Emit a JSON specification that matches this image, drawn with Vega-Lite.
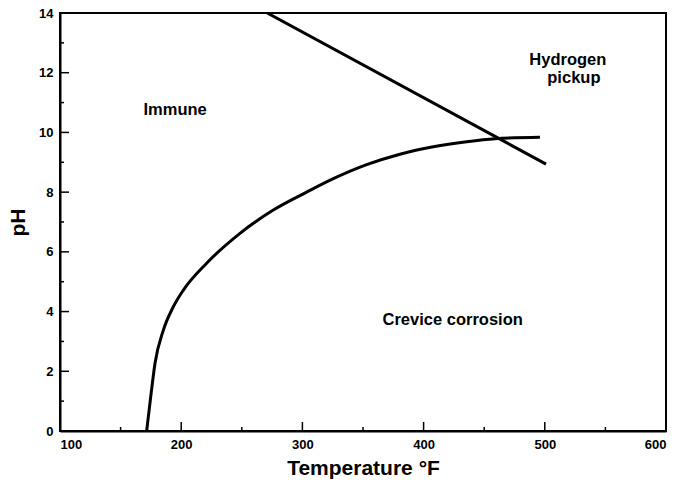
{
  "$schema": "https://vega.github.io/schema/vega-lite/v6.json",
  "autosize": "none",
  "width": 606,
  "height": 418,
  "padding": {"left": 60, "top": 13, "right": 12, "bottom": 50},
  "background": "white",
  "config": {
    "view": {"stroke": "black", "strokeWidth": 2},
    "font": "Liberation Sans"
  },
  "datasets": {
    "boundary": [
      {"T": 271, "pH": 14},
      {"T": 501, "pH": 8.94}
    ],
    "curve": [
      {"T": 171.5, "pH": 0},
      {"T": 175, "pH": 1.2},
      {"T": 178.4, "pH": 2.27},
      {"T": 185.3, "pH": 3.38},
      {"T": 193.5, "pH": 4.16},
      {"T": 201.8, "pH": 4.72},
      {"T": 221, "pH": 5.62},
      {"T": 248.5, "pH": 6.62},
      {"T": 276, "pH": 7.4},
      {"T": 303.5, "pH": 8.0},
      {"T": 325.5, "pH": 8.45},
      {"T": 353, "pH": 8.92},
      {"T": 380.5, "pH": 9.27},
      {"T": 408, "pH": 9.52},
      {"T": 435.6, "pH": 9.69},
      {"T": 459, "pH": 9.79},
      {"T": 496, "pH": 9.84}
    ],
    "labels": [
      {"T": 195, "pH": 10.75, "text": "Immune"},
      {"T": 424, "pH": 3.72, "text": "Crevice corrosion"},
      {"T": 519, "pH": 12.42, "text": "Hydrogen"},
      {"T": 524, "pH": 11.82, "text": "pickup"}
    ],
    "xticks": [
      {"T": 150, "kind": "minor"}, {"T": 200, "kind": "major"},
      {"T": 250, "kind": "minor"}, {"T": 300, "kind": "major"},
      {"T": 350, "kind": "minor"}, {"T": 400, "kind": "major"},
      {"T": 450, "kind": "minor"}, {"T": 500, "kind": "major"},
      {"T": 550, "kind": "minor"}
    ],
    "yticks": [
      {"pH": 1, "kind": "minor"}, {"pH": 2, "kind": "major"},
      {"pH": 3, "kind": "minor"}, {"pH": 4, "kind": "major"},
      {"pH": 5, "kind": "minor"}, {"pH": 6, "kind": "major"},
      {"pH": 7, "kind": "minor"}, {"pH": 8, "kind": "major"},
      {"pH": 9, "kind": "minor"}, {"pH": 10, "kind": "major"},
      {"pH": 11, "kind": "minor"}, {"pH": 12, "kind": "major"},
      {"pH": 13, "kind": "minor"}
    ]
  },
  "layer": [
    {
      "data": {"name": "boundary"},
      "mark": {"type": "line", "color": "black", "strokeWidth": 3, "clip": true},
      "encoding": {
        "x": {
          "field": "T", "type": "quantitative",
          "scale": {"domain": [100, 600], "nice": false, "zero": false},
          "axis": {
            "orient": "bottom",
            "values": [100, 200, 300, 400, 500, 600],
            "title": "Temperature °F",
            "titleFontSize": 21, "titleFontWeight": "bold", "titleColor": "black",
            "titlePadding": 6,
            "labelFontSize": 13, "labelFontWeight": "bold", "labelColor": "black",
            "ticks": false,
            "labelPadding": 7,
            "domainColor": "black", "domainWidth": 2,
            "grid": false
          }
        },
        "y": {
          "field": "pH", "type": "quantitative",
          "scale": {"domain": [0, 14], "nice": false},
          "axis": {
            "orient": "left",
            "values": [0, 2, 4, 6, 8, 10, 12, 14],
            "title": "pH",
            "titleFontSize": 21, "titleFontWeight": "bold", "titleColor": "black",
            "titlePadding": 10,
            "labelFontSize": 13, "labelFontWeight": "bold", "labelColor": "black",
            "ticks": false,
            "labelPadding": 7,
            "domainColor": "black", "domainWidth": 2,
            "grid": false
          }
        }
      }
    },
    {
      "data": {"name": "curve"},
      "mark": {"type": "line", "color": "black", "strokeWidth": 3, "interpolate": "monotone"},
      "encoding": {
        "x": {"field": "T", "type": "quantitative"},
        "y": {"field": "pH", "type": "quantitative"}
      }
    },
    {
      "data": {"name": "xticks"},
      "mark": {"type": "tick", "orient": "vertical", "color": "black", "thickness": 1.5, "clip": true, "opacity": 1},
      "encoding": {
        "x": {"field": "T", "type": "quantitative"},
        "y": {"datum": 0, "type": "quantitative"},
        "size": {"field": "kind", "type": "nominal", "scale": {"domain": ["major", "minor"], "range": [18, 8]}, "legend": null}
      }
    },
    {
      "data": {"name": "yticks"},
      "mark": {"type": "tick", "orient": "horizontal", "color": "black", "thickness": 1.5, "clip": true, "opacity": 1},
      "encoding": {
        "y": {"field": "pH", "type": "quantitative"},
        "x": {"datum": 100, "type": "quantitative"},
        "size": {"field": "kind", "type": "nominal", "scale": {"domain": ["major", "minor"], "range": [18, 8]}, "legend": null}
      }
    },
    {
      "data": {"name": "labels"},
      "mark": {"type": "text", "fontSize": 16.5, "fontWeight": "bold", "color": "black", "align": "center", "baseline": "middle"},
      "encoding": {
        "x": {"field": "T", "type": "quantitative"},
        "y": {"field": "pH", "type": "quantitative"},
        "text": {"field": "text"}
      }
    }
  ]
}
